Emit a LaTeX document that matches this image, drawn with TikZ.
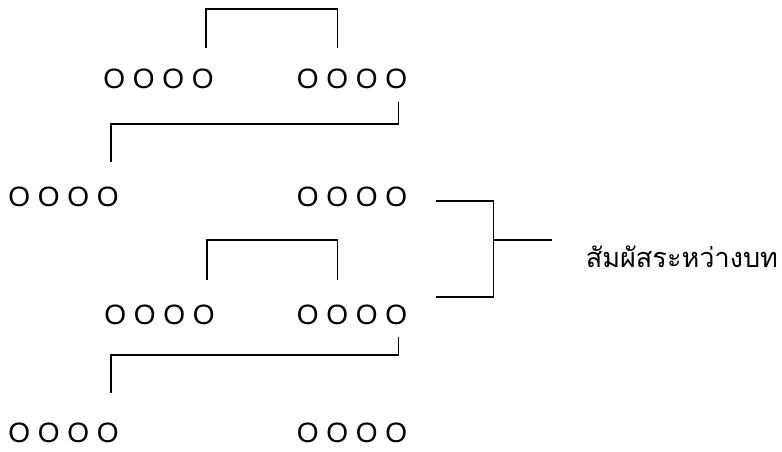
\documentclass[tikz,border=0pt]{standalone}
\usepackage{fontspec}
\newfontfamily\thaifont[Script=Thai]{Loma}
\newfontfamily\grpfont{Liberation Sans}
\usetikzlibrary{calc,positioning}

\tikzset{
  grp/.style={inner sep=0pt, font=\grpfont\fontsize{21}{24}\selectfont},
  note/.style={inner sep=0pt, font=\thaifont\fontsize{20.3}{24}\selectfont},
  link/.style={line width=1.4pt},
}

\begin{document}
\begin{tikzpicture}[x=0.75pt,y=-0.75pt]
\useasboundingbox (0,0) rectangle (782,451);

% four lines, two groups each
\node[grp] (a1) at (158.5,79) {O O O O};
\node[grp] (b1) at (352,79) {O O O O};
\node[grp] (a2) at (63.5,197) {O O O O};
\node[grp] (b2) at (352,197) {O O O O};
\node[grp] (a3) at (159.5,315) {O O O O};
\node[grp] (b3) at (352,315) {O O O O};
\node[grp] (a4) at (63.5,433) {O O O O};
\node[grp] (b4) at (352,433) {O O O O};

% rhyme links
\draw[link] ($(a1.north east)+(-8,-21)$) |- ($(b1.north west)+(41,-60)$) -- ++(0,39);
\draw[link] ($(b1.south east)+(-9,13)$) |- ($(a2.north east)+(-8,-63)$) -- ++(0,38);
\draw[link] ($(a3.north east)+(-8,-25)$) |- ($(b3.north west)+(41,-65)$) -- ++(0,40);
\draw[link] ($(b3.south east)+(-9,12)$) |- ($(a4.north east)+(-8,-68)$) -- ++(0,38);

% between stanzas
\draw[link] ($(b2.east)+(29,4)$) -| ($(b3.east)+(86,-18)$) -- ($(b3.east)+(29,-18)$);
\coordinate (fork) at ($(b2.east)+(86,43)$);
\coordinate (tip) at ($(fork)+(58,0)$);
\draw[link] (fork) -- (tip);
\node[note, anchor=base west] (lbl) at ($(tip)+(34,27)$) {สัมผัสระหว่างบท};

\end{tikzpicture}
\end{document}
